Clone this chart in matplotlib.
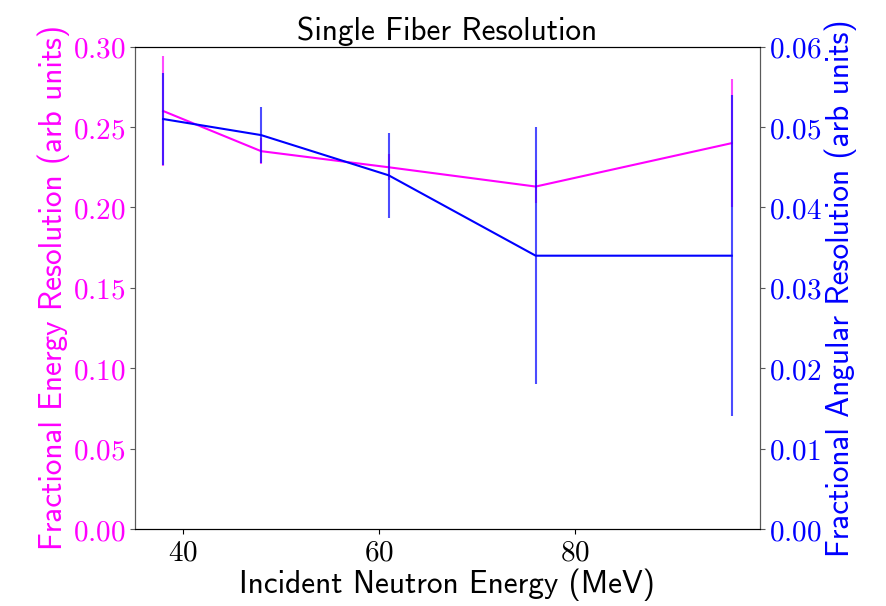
import numpy as np
import matplotlib
matplotlib.use("Agg")
import matplotlib.pyplot as plt
from matplotlib.ticker import FuncFormatter

plt.rcParams['mathtext.fontset'] = 'cm'

# data
energia = [38, 48, 61, 76, 96]  # Incident neutron energy (MeV)
res_energi = [0.260, 0.235, 0.225, 0.213, 0.240]
err_energi = [0.034, 0.008, 0.008, 0.010, 0.040]
res_sudut = [0.051, 0.049, 0.044, 0.034, 0.034]
err_sudut = [0.0057, 0.0035, 0.0053, 0.016, 0.020]

warna1 = '#ff00ff'
warna2 = '#0000ff'
fs_tick = 21
fs_lab = 22.5

fig, ax1 = plt.subplots(figsize=(8.86, 6.06), dpi=100)
fig.subplots_adjust(left=0.152, right=0.858, top=0.923, bottom=0.127)

e1 = ax1.errorbar(energia, res_energi, yerr=err_energi, color=warna1, lw=1.5)
e1[2][0].set_alpha(0.7)
ax1.set_ylim(0, 0.30)
ax1.set_yticks(np.arange(0, 0.301, 0.05))
ax1.set_xticks([40, 60, 80])
ax1.yaxis.set_major_formatter(FuncFormatter(lambda v, p: r'$%.2f$' % v))
ax1.xaxis.set_major_formatter(FuncFormatter(lambda v, p: r'$%d$' % v))
ax1.tick_params(axis='y', labelcolor=warna1, labelsize=fs_tick, color='0.35', pad=3)
ax1.tick_params(axis='x', labelsize=fs_tick)
ax1.set_ylabel('Fractional Energy Resolution (arb units)', color=warna1,
               fontsize=fs_lab, family='cmss10', labelpad=2)
ax1.set_xlabel('Incident Neutron Energy (MeV)', fontsize=fs_lab, family='cmss10', labelpad=1)
ax1.set_title('Single Fiber Resolution', fontsize=fs_lab, family='cmss10', pad=5)

ax2 = ax1.twinx()
e2 = ax2.errorbar(energia, res_sudut, yerr=err_sudut, color=warna2, lw=1.5)
e2[2][0].set_alpha(0.7)
ax2.set_ylim(0, 0.06)
ax2.set_yticks(np.arange(0, 0.0601, 0.01))
ax2.yaxis.set_major_formatter(FuncFormatter(lambda v, p: r'$%.2f$' % v))
ax2.tick_params(axis='y', labelcolor=warna2, labelsize=fs_tick, color='0.35', pad=3)
ax2.set_ylabel('Fractional Angular Resolution (arb units)', color=warna2,
               fontsize=fs_lab, family='cmss10', labelpad=2)
for a in (ax1, ax2):
    a.spines['left'].set_color('0.35')
    a.spines['right'].set_color('0.35')

plt.savefig('out.png', dpi=100)
